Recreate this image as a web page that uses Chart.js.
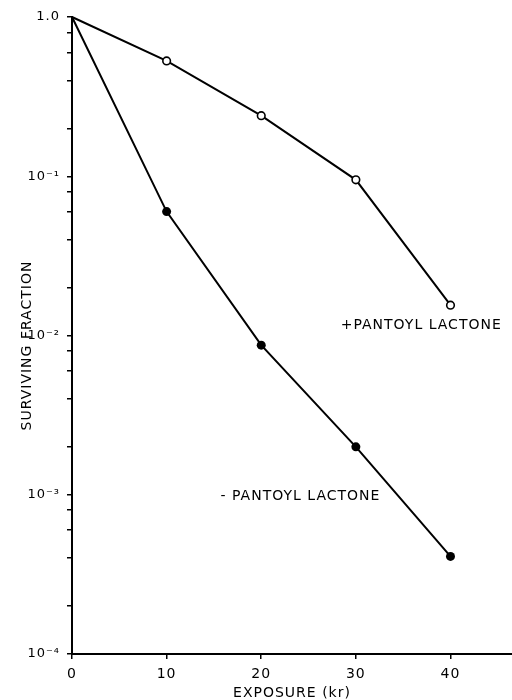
<!DOCTYPE html>
<html>
<head>
<meta charset="utf-8">
<script src="https://cdn.jsdelivr.net/npm/chart.js@4.4.1/dist/chart.umd.min.js"></script>
<style>
  html, body { margin: 0; padding: 0; background: #fff; overflow: hidden; }
  #wrap { width: 512px; height: 700px; }
  canvas { display: block; }
</style>
</head>
<body>
<div id="wrap"><canvas id="survivalChart"></canvas></div>
<script>
// Survival vs exposure, log scale

const exposure = [0, 10, 20, 30, 40];
const withLactone = [1.0, 0.53, 0.24, 0.095, 0.0155];
const withoutLactone = [1.0, 0.06, 0.0087, 0.0020, 0.00041];

const xTicks = [0, 10, 20, 30, 40];
const yMajors = [1e-4, 1e-3, 1e-2, 1e-1, 1];
const yLabels = ['10\u207B\u2074', '10\u207B\u00B3', '10\u207B\u00B2', '10\u207B\u00B9', '1.0'];
const yMinorSteps = [2, 4, 6, 8];

const seriesNotes = [
    { text: '+PANTOYL LACTONE', x: 28.4, y: 0.0115 },
    { text: '- PANTOYL LACTONE', x: 15.7, y: 0.00098 }
];
const yTitle = 'SURVIVING FRACTION';

const fontFamily = '"DejaVu Sans", sans-serif';

function toPoints(ys) {
    return exposure.map((x, i) => ({ x: x, y: ys[i] }));
}

// wider lettering like the original drawing
const spacingPlugin = {
    id: 'spacing',
    beforeDraw(chart) {
        chart.ctx.letterSpacing = '1px';
    }
};

const notesPlugin = {
    id: 'notes',
    afterDraw(chart) {
        const { ctx, scales, chartArea } = chart;
        ctx.save();
        ctx.fillStyle = '#000';
        ctx.font = '14px ' + fontFamily;
        ctx.letterSpacing = '1px';
        ctx.textAlign = 'left';
        ctx.textBaseline = 'middle';
        seriesNotes.forEach(n => {
            ctx.fillText(n.text, scales.x.getPixelForValue(n.x), scales.y.getPixelForValue(n.y));
        });
        // y axis title, a little below the middle as in the original
        ctx.translate(27, (chartArea.top + chartArea.bottom) / 2 + 10);
        ctx.rotate(-Math.PI / 2);
        ctx.textAlign = 'center';
        ctx.fillText(yTitle, 0, 0);
        ctx.restore();
    }
};

new Chart(document.getElementById('survivalChart'), {
    type: 'line',
    data: {
        datasets: [
            {
                label: '+ Pantoyl lactone',
                data: toPoints(withLactone),
                borderColor: '#000',
                borderWidth: 2,
                pointRadius: [0, 3.8, 3.8, 3.8, 3.8],
                pointBorderWidth: 1.6,
                pointBackgroundColor: '#fff',
                pointBorderColor: '#000',
                tension: 0,
                clip: false
            },
            {
                label: '- Pantoyl lactone',
                data: toPoints(withoutLactone),
                borderColor: '#000',
                borderWidth: 2,
                pointRadius: [0, 4.5, 4.5, 4.5, 4.5],
                pointBorderWidth: 0,
                pointBackgroundColor: '#000',
                pointBorderColor: '#000',
                tension: 0,
                clip: false
            }
        ]
    },
    options: {
        responsive: true,
        maintainAspectRatio: false,
        animation: false,
        layout: {
            autoPadding: false,
            padding: { top: 17, right: 0, bottom: 0, left: 0 }
        },
        plugins: {
            legend: { display: false },
            tooltip: { enabled: false }
        },
        scales: {
            x: {
                type: 'linear',
                min: 0,
                max: 46.5,
                afterBuildTicks: scale => {
                    scale.ticks = xTicks.map(v => ({ value: v }));
                },
                afterFit: scale => {
                    scale.height = 46;
                    scale.paddingLeft = 0;
                    scale.paddingRight = 0;
                },
                border: { display: true, color: '#000', width: 2 },
                grid: { drawOnChartArea: false, color: '#000', lineWidth: 1.5, tickLength: 5 },
                ticks: {
                    color: '#000',
                    font: { family: fontFamily, size: 14 },
                    padding: 7,
                    maxRotation: 0,
                    autoSkip: false
                },
                title: {
                    display: true,
                    text: 'EXPOSURE (kr)',
                    color: '#000',
                    font: { family: fontFamily, size: 14, lineHeight: 1 },
                    padding: { top: 0, bottom: 0 }
                }
            },
            y: {
                type: 'logarithmic',
                min: 1e-4,
                max: 1,
                afterBuildTicks: scale => {
                    const ticks = [];
                    yMajors.forEach((m, i) => {
                        ticks.push({ value: m });
                        if (i < yMajors.length - 1) {
                            yMinorSteps.forEach(s => ticks.push({ value: m * s }));
                        }
                    });
                    scale.ticks = ticks;
                },
                afterFit: scale => { scale.width = 72; },
                border: { display: true, color: '#000', width: 2 },
                grid: { drawOnChartArea: false, color: '#000', lineWidth: 1.5, tickLength: 5 },
                ticks: {
                    color: '#000',
                    font: { family: fontFamily, size: 13 },
                    padding: 7,
                    autoSkip: false,
                    callback: value => {
                        const i = yMajors.findIndex(m => Math.abs(m - value) < m * 1e-6);
                        return i >= 0 ? yLabels[i] : '';
                    }
                },
                title: { display: false }
            }
        }
    },
    plugins: [spacingPlugin, notesPlugin]
});
</script>
</body>
</html>
